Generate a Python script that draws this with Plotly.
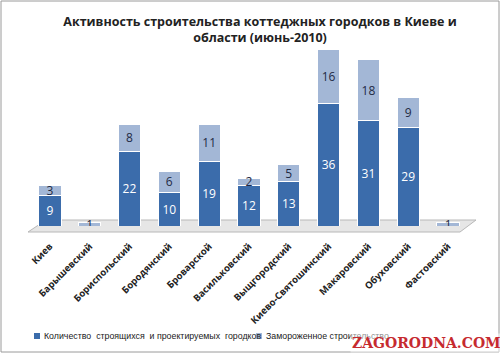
import plotly.graph_objects as go

categories = ["Киев", "Барышевский", "Бориспольский", "Бородянский", "Броварской",
              "Васильковский", "Выщгородский", "Киево-Святошинский", "Макаровский",
              "Обуховский", "Фастовский"]
active = [9, 0, 22, 10, 19, 12, 13, 36, 31, 29, 0]
frozen = [3, 1, 8, 6, 11, 2, 5, 16, 18, 9, 1]
series_names = ["Количество\u00a0 строящихся\u00a0 и проектируемых\u00a0 городков", "Замороженное строительство"]
colors = ["#3b6cab", "#a3b7d6"]

W, H = 500, 353
ML, MR, MT, MB = 30, 32, 36, 127

def px(x):
    return (x - ML) / (W - ML - MR)

def py(y):
    return (H - MB - y) / (H - MT - MB)

fig = go.Figure()
fig.add_trace(go.Bar(
    x=categories, y=active, name=series_names[0],
    marker=dict(color=colors[0], line=dict(color="#ffffff", width=1)),
    text=[str(v) if v else "" for v in active], textposition="inside",
    insidetextanchor="middle", textangle=0,
    textfont=dict(color="white", size=12, family="Open Sans"),
))
fig.add_trace(go.Bar(
    x=categories, y=frozen, name=series_names[1],
    marker=dict(color=colors[1], line=dict(color="#ffffff", width=1)),
    text=[str(v) for v in frozen], textposition="inside",
    insidetextanchor="middle", textangle=0,
    textfont=dict(color="#1f2a44", size=12, family="Open Sans"),
))

shapes = [
    dict(type="rect", xref="paper", yref="paper", x0=px(1), x1=px(499), y0=py(352), y1=py(1),
         line=dict(color="#9a9a9a", width=1), fillcolor="rgba(0,0,0,0)", layer="below"),
    dict(type="path", xref="paper", yref="paper",
         path=f"M {px(28)},{py(232)} L {px(460)},{py(232)} L {px(476)},{py(220)} L {px(46)},{py(220)} Z",
         line=dict(color="#b8b8b8", width=1), fillcolor="#e6e6e6", layer="below"),
]

legend_x = [34, 256]
annotations = []
for i, name in enumerate(series_names):
    x0 = legend_x[i]
    shapes.append(dict(type="rect", xref="paper", yref="paper",
                       x0=px(x0), x1=px(x0 + 6), y0=py(339), y1=py(333),
                       line=dict(width=0), fillcolor=colors[i]))
    annotations.append(dict(text=name, xref="paper", yref="paper", x=px(x0 + 8), y=py(336),
                            xanchor="left", yanchor="middle", showarrow=False,
                            font=dict(size=8.8, color="#222", family="Liberation Sans")))

annotations.append(dict(text="<b>ZAGORODNA.COM</b>", xref="paper", yref="paper",
                        x=px(426), y=py(343), xanchor="center", yanchor="middle", showarrow=False,
                        font=dict(size=14, color="#c62a2f", family="DejaVu Serif"),
                        bgcolor="rgba(255,255,255,0.5)"))

fig.update_layout(
    width=W, height=H, margin=dict(l=ML, r=MR, t=MT, b=MB),
    barmode="stack", bargap=0.44,
    uniformtext=dict(mode="show", minsize=12),
    paper_bgcolor="white", plot_bgcolor="rgba(0,0,0,0)",
    title=dict(text="<b>Активность строительства коттеджных городков в Киеве и<br>области (июнь-2010)</b>",
               x=0.52, xanchor="center", y=1 - 26 / H, yanchor="middle", yref="container",
               font=dict(size=12.5, color="#222", family="Open Sans")),
    xaxis=dict(tickangle=-45, showline=False, showgrid=False, ticks="",
               tickfont=dict(size=9.5, color="#222", family="Open Sans", weight="bold"),
               ticklabelstandoff=12, automargin=False),
    yaxis=dict(range=[0, 56], visible=False),
    showlegend=False,
    shapes=shapes,
    annotations=annotations,
)

fig.write_html("out.html")
